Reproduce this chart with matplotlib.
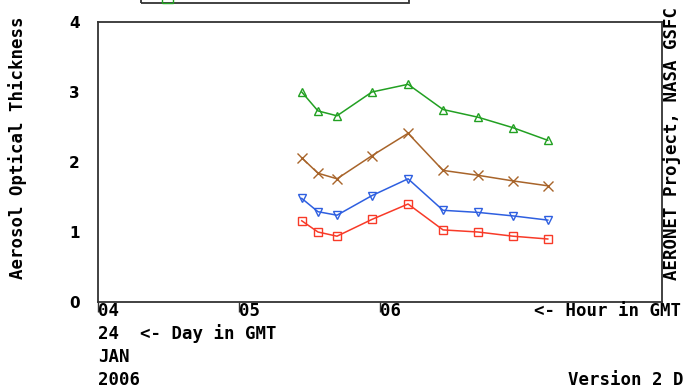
import matplotlib
matplotlib.use("Agg")
import matplotlib.pyplot as plt
from matplotlib.patches import Rectangle

# hours (GMT) on 24 Jan 2006
hours = [5.445, 5.56, 5.695, 5.943, 6.199, 6.447, 6.695, 6.943, 7.19]
aot_green = [3.00, 2.73, 2.66, 3.00, 3.11, 2.75, 2.64, 2.49, 2.31]
aot_brown = [2.06, 1.84, 1.76, 2.09, 2.41, 1.88, 1.81, 1.73, 1.66]
aot_blue = [1.48, 1.29, 1.24, 1.52, 1.76, 1.31, 1.28, 1.23, 1.17]
aot_red = [1.16, 1.00, 0.94, 1.18, 1.40, 1.03, 1.00, 0.94, 0.90]

xticks = [4, 5, 6]
xticklabels = ["04", "05", "06"]
yticks = [0, 1, 2, 3, 4]

W, H = 684, 391
mono = {"family": "DejaVu Sans Mono", "weight": "bold", "size": 12.5}

fig = plt.figure(figsize=(W / 100, H / 100), dpi=100)
ax = fig.add_axes([98 / W, 1 - 302 / H, (662 - 98) / W, (302 - 22) / H])

ax.plot(hours, aot_green, color="#22a022", marker="^", mfc="none", ms=5.5, mew=1.0, lw=1.1)
ax.plot(hours, aot_brown, color="#a8642a", marker="x", ms=6.5, mew=1.0, lw=1.1)
ax.plot(hours, aot_blue, color="#2e5fe0", marker="v", mfc="none", ms=5.5, mew=1.0, lw=1.1)
ax.plot(hours, aot_red, color="#f83a28", marker="s", mfc="none", ms=5.5, mew=1.0, lw=1.1)

ax.set_xlim(4, 8)
ax.set_ylim(0, 4)
ax.set_xticks(xticks)
ax.set_xticklabels([])
ax.set_yticks(yticks)
ax.set_yticklabels([str(v) for v in yticks], fontsize=11, fontweight="bold")
ax.tick_params(axis="y", length=0, pad=13)
ax.tick_params(axis="x", length=7, width=1, direction="out", color="#333333")
for s in ax.spines.values():
    s.set_color("#333333")
    s.set_linewidth(1.3)

# x tick labels, left aligned on the tick
for t, lab in zip(xticks, xticklabels):
    ax.annotate(lab, xy=(t, 0), xycoords="data", xytext=(0, -9), textcoords="offset pixels",
                ha="left", va="center", **mono)

def ftext(x, y, s, **kw):
    fig.text(x / W, 1 - y / H, s, **kw)

ftext(681, 311, "<- Hour in GMT", ha="right", va="center", **mono)
ftext(98, 334, "24  <- Day in GMT", ha="left", va="center", **mono)
ftext(98, 357, "JAN", ha="left", va="center", **mono)
ftext(98, 380, "2006", ha="left", va="center", **mono)
ftext(568, 380, "Version 2 Direct Sun Algorithm", ha="left", va="center", **mono)
ftext(18, 148, "Aerosol Optical Thickness", ha="center", va="center", rotation=90, **mono)
ftext(672, 143, "AERONET Project, NASA GSFC", ha="center", va="center", rotation=90, **mono)

# legend box cut off at the top edge
fig.patches.append(Rectangle((141 / W, 1 - 2.5 / H), (409 - 141) / W, 40 / H,
                             transform=fig.transFigure, fill=False, edgecolor="#333333",
                             linewidth=1.3, clip_on=False))
fig.patches.append(Rectangle((162 / W, 1 - 2.5 / H), 11 / W, 10 / H,
                             transform=fig.transFigure, fill=False, edgecolor="#22a022",
                             linewidth=1.0, clip_on=False))

fig.savefig("out.png", dpi=100)
